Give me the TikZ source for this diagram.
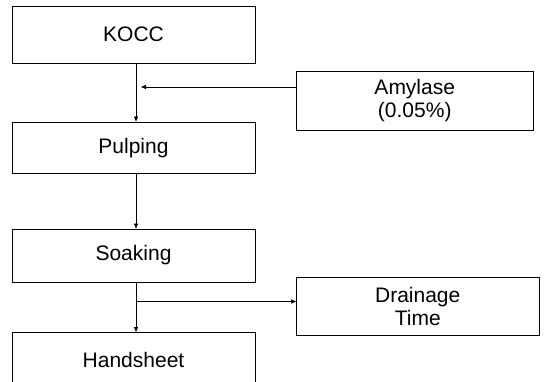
\documentclass[tikz,border=0pt]{standalone}
\usepackage{fontspec}
\setmainfont{Liberation Sans}
\usetikzlibrary{positioning,arrows.meta}

\begin{document}
\begin{tikzpicture}[x=1pt,y=-1pt,>={Triangle[length=5pt,width=4pt]},
  every node/.style={font=\fontsize{21}{23}\selectfont},
  proc/.style={draw,line width=0.9pt,minimum width=243pt,minimum height=55pt,inner sep=0pt,align=center}]
  \useasboundingbox (0,0) rectangle (546,382);
  \clip (0,0) rectangle (546,382);
  % main line
  \node[proc,minimum height=57pt] (kocc) at (133.5,34.5) {KOCC};
  \node[proc,minimum height=51.5pt] (pulp) at (133.5,147.75) {Pulping};
  \node[proc,minimum height=53pt] (soak) at (133.5,255.5) {Soaking};
  \node[proc] (hand) at (133.5,360) {Handsheet};
  % side boxes
  \node[proc,minimum width=236.5pt,minimum height=59pt] (amy) at (414.75,100.5) {Amylase\\(0.05\%)};
  \node[proc,minimum width=242.5pt,minimum height=58pt] (drain) at (417.75,306) {Drainage\\Time};
  \coordinate (m1) at (136,87);
  \coordinate (m2) at (136,301.5);
  \draw[->,line width=0.7pt] ([xshift=2.5pt]kocc.south) -- ([xshift=2.5pt]pulp.north);
  \draw[->,line width=0.7pt] ([xshift=2.5pt]pulp.south) -- ([xshift=2.5pt]soak.north);
  \draw[->,line width=0.7pt] ([xshift=2.5pt]soak.south) -- ([xshift=2.5pt]hand.north);
  \draw[->,line width=0.7pt] (amy.west|-m1) -- ([xshift=5pt]m1);
  \draw[->,line width=0.7pt] (m2) -- (drain.west|-m2);
\end{tikzpicture}
\end{document}
